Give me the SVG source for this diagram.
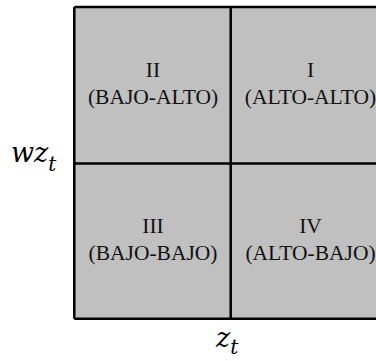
<svg xmlns="http://www.w3.org/2000/svg" width="376" height="361" viewBox="0 0 376 361">
<style>
.cell{fill:#c0c0c0;stroke:none}
.ln{stroke:#000;stroke-width:2.5;fill:none}
.t{font-family:"Liberation Serif","Times New Roman",serif;font-size:21.5px;fill:#111;text-anchor:middle}
.m{font-family:"DejaVu Serif","Liberation Serif",serif;font-style:italic;font-size:27px;fill:#000}
.s{font-size:20px}
</style>
<rect x="0" y="0" width="376" height="361" fill="#fff"/>
<g id="cell-II"><rect class="cell" x="74" y="7" width="156.5" height="156.5"/><text class="t" x="153" y="77">II</text><text class="t" x="153" y="104">(BAJO-ALTO)</text></g>
<g id="cell-I"><rect class="cell" x="230.5" y="7" width="160" height="156.5"/><text class="t" x="310.5" y="77">I</text><text class="t" x="310.5" y="104">(ALTO-ALTO)</text></g>
<g id="cell-III"><rect class="cell" x="74" y="163.5" width="156.5" height="155"/><text class="t" x="153" y="233">III</text><text class="t" x="153" y="260">(BAJO-BAJO)</text></g>
<g id="cell-IV"><rect class="cell" x="230.5" y="163.5" width="160" height="155"/><text class="t" x="310.5" y="233">IV</text><text class="t" x="310.5" y="260">(ALTO-BAJO)</text></g>
<g id="connectors">
<path class="ln" d="M74.3 7 H390 M74.3 318.7 H390 M74.3 7 V318.7 M230.7 7 V318.7 M74.3 163.5 H390"/>
</g>
<g id="label-y"><text class="m" x="11" y="162">wz<tspan class="s" dy="9">t</tspan></text></g>
<g id="label-x"><text class="m" x="216" y="347">z<tspan class="s" dy="7">t</tspan></text></g>
</svg>
